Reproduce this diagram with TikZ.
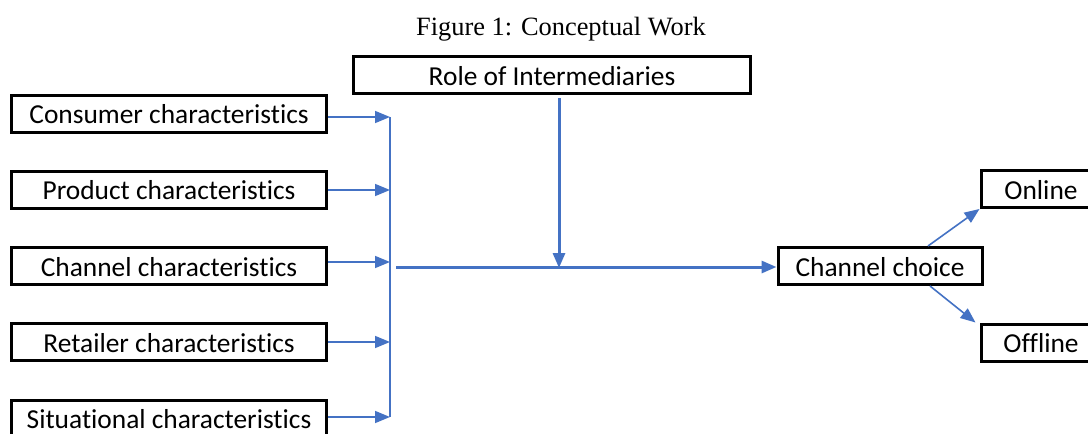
\documentclass[tikz,border=0pt]{standalone}
\usepackage{fontspec}
\setmainfont{Carlito}[Ligatures=NoCommon]
\newfontfamily\titlefont{Liberation Serif}
\usetikzlibrary{arrows.meta,positioning}
\definecolor{linkblue}{HTML}{4472C4}

\begin{document}
\begin{tikzpicture}[
        x=1pt, y=-1pt,
        ->, >={Triangle[length=15pt,width=12pt]},
        node distance=76.25pt
    ]

    \tikzstyle{block} = [rectangle,draw=black,line width=3pt,minimum height=37pt,inner sep=0pt,
        text height=21pt,text depth=1pt,font=\fontsize{27.4}{32}\selectfont]
    \tikzstyle{link} = [color=linkblue,line width=1.6pt]
    \tikzstyle{mainlink} = [color=linkblue,line width=3pt]

    \fill[white] (0,0) rectangle (1088,434);
    \useasboundingbox (0,0) rectangle (1088,434);

    \node[anchor=base,font=\titlefont\fontsize{26.4}{30}\selectfont] (title) at (561,35) {Figure 1: Conceptual Work};

    \node[block,minimum width=315pt] (cons) at (169,113.5) {Consumer characteristics};
    \node[block,minimum width=315pt] (prod) [below of=cons] {Product characteristics};
    \node[block,minimum width=315pt] (chan) [below of=prod] {Channel characteristics};
    \node[block,minimum width=315pt] (ret) [below of=chan] {Retailer characteristics};
    \node[block,minimum width=315pt] (sit) [below of=ret] {Situational characteristics};

    \node[block,minimum width=397pt] (role) at (552,75) {Role of Intermediaries};
    \node[block,minimum width=204pt] (choice) at (880,266) {Channel choice};
    \node[block,minimum width=120pt] (online) at (1041,189) {Online};
    \node[block,minimum width=120pt] (offline) at (1041,342.5) {Offline};

    \coordinate (b1) at (390,117);
    \coordinate (b2) at (390,190);
    \coordinate (b3) at (390,262);
    \coordinate (b4) at (390,342);
    \coordinate (b5) at (390,417);
    \coordinate (hub) at (396,267);
    \coordinate (join) at (559,268);

    \foreach \src/\bus in {cons/b1,prod/b2,chan/b3,ret/b4,sit/b5}
        \draw[link] (\src.east |- \bus) -- (\bus);
    \draw[link,-] (b1) -- (b5);

    \draw[mainlink] (hub) -- (hub -| choice.west);
    \draw[mainlink] ([yshift=-3pt]role.south -| join) -- (join);

    \draw[link] ([xshift=48pt]choice.north) -- (online.south west);
    \draw[link] ([xshift=50pt]choice.south) -- ([xshift=-4pt]offline.north west);

\end{tikzpicture}
\end{document}
